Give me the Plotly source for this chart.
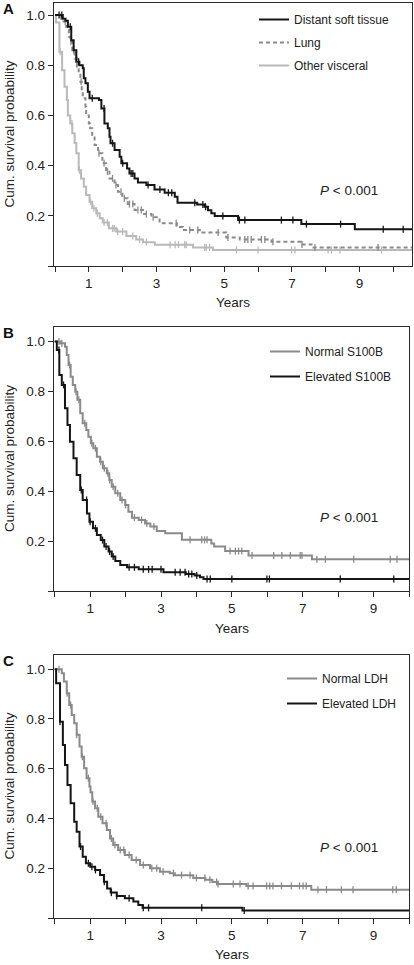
import numpy as np
import plotly.graph_objects as go

# ---------------- data ----------------
# Panel A
A_DST_T = [0, 0.23, 0.31, 0.38, 0.48, 0.55, 0.63, 0.72, 0.82, 0.85, 0.9, 0.97, 1.02, 1.3, 1.37, 1.46, 1.56, 1.61, 1.64, 1.76,
           1.91, 1.96, 2.13, 2.2, 2.35, 2.45, 2.7, 2.94, 3.24, 3.54, 3.62, 4.2, 4.42, 4.52, 4.62, 4.72, 5.41, 7.28, 8.86]
A_DST_S = [1.0, 0.985, 0.977, 0.953, 0.90, 0.86, 0.814, 0.80, 0.788, 0.748, 0.728, 0.694, 0.668, 0.661, 0.628, 0.568, 0.549,
           0.515, 0.489, 0.462, 0.435, 0.409, 0.389, 0.369, 0.349, 0.333, 0.323, 0.305, 0.292, 0.276, 0.252, 0.245, 0.236,
           0.222, 0.21, 0.199, 0.183, 0.167, 0.146]
A_DST_C = [0.12, 0.2, 0.45, 0.7, 1.1, 1.45, 1.7, 2.0, 2.25, 2.3, 2.75, 3.1, 3.35, 3.45, 4.13, 4.37, 4.45, 4.96, 5.45, 5.61,
           6.69, 7.03, 7.43, 8.44, 9.70, 10.29]

A_LUNG_T = [0, 0.18, 0.25, 0.33, 0.41, 0.45, 0.51, 0.58, 0.65, 0.7, 0.75, 0.79, 0.82, 0.9, 0.92, 1.0, 1.04, 1.1, 1.17, 1.27,
            1.4, 1.51, 1.61, 1.76, 1.86, 1.99, 2.15, 2.35, 2.6, 2.85, 3.09, 3.6, 3.78, 4.28, 5.06, 5.46, 6.4, 7.28, 7.58]
A_LUNG_S = [1.0, 0.985, 0.974, 0.953, 0.914, 0.894, 0.86, 0.827, 0.794, 0.768, 0.734, 0.694, 0.668, 0.635, 0.60, 0.568,
            0.549, 0.522, 0.482, 0.449, 0.409, 0.376, 0.349, 0.323, 0.296, 0.27, 0.247, 0.223, 0.207, 0.194, 0.17, 0.155,
            0.143, 0.133, 0.114, 0.106, 0.097, 0.086, 0.074]
A_LUNG_C = [0.3, 0.47, 0.55, 0.62, 0.77, 1.3, 1.45, 1.55, 1.7, 1.8, 1.95, 2.05, 2.2, 2.3, 2.45, 2.55, 2.7, 2.9, 3.58, 3.98,
            4.22, 4.82, 5.11, 5.61, 5.7, 5.8, 6.1, 6.2, 6.44, 7.3, 7.68, 9.55]

A_OTH_T = [0, 0.03, 0.13, 0.21, 0.28, 0.35, 0.38, 0.45, 0.51, 0.58, 0.63, 0.7, 0.77, 0.85, 0.92, 1.02, 1.1, 1.22, 1.32,
           1.41, 1.59, 1.81, 2.11, 2.4, 2.6, 2.95, 4.08, 4.67]
A_OTH_S = [1.0, 0.97, 0.854, 0.78, 0.714, 0.661, 0.60, 0.568, 0.529, 0.49, 0.449, 0.382, 0.349, 0.316, 0.283, 0.256, 0.23,
           0.21, 0.19, 0.173, 0.15, 0.137, 0.12, 0.106, 0.095, 0.085, 0.074, 0.064]
A_OTH_C = [0.15, 0.5, 0.72, 1.05, 1.15, 1.25, 1.45, 1.55, 1.7, 1.75, 1.85, 2.0, 2.3, 2.5, 2.7, 3.4, 3.55, 3.65, 3.83, 3.88,
           4.42, 4.47, 4.57, 5.36, 6.0, 6.99, 7.09, 8.07, 8.17, 8.42, 9.65]
A_END = 10.55

# Panel B
B_NORM_T = [0, 0.15, 0.29, 0.34, 0.39, 0.45, 0.51, 0.58, 0.64, 0.72, 0.79, 0.89, 0.95, 1.02, 1.09, 1.19, 1.28, 1.36, 1.47,
            1.54, 1.61, 1.71, 1.85, 1.99, 2.08, 2.18, 2.37, 2.55, 2.7, 2.88, 3.12, 3.59, 4.42, 4.5, 4.81, 5.47, 7.26]
B_NORM_S = [1.0, 0.993, 0.979, 0.946, 0.906, 0.859, 0.826, 0.799, 0.766, 0.712, 0.672, 0.645, 0.618, 0.592, 0.572, 0.538,
            0.518, 0.492, 0.472, 0.445, 0.418, 0.392, 0.365, 0.345, 0.318, 0.294, 0.285, 0.271, 0.258, 0.24, 0.231, 0.205,
            0.19, 0.178, 0.16, 0.142, 0.127]
B_NORM_C = [0.12, 0.2, 0.42, 0.6, 0.68, 0.85, 1.05, 1.15, 1.3, 1.4, 1.5, 1.55, 1.65, 1.78, 1.9, 2.0, 2.25, 2.45, 2.6, 2.8,
            3.82, 4.15, 4.23, 4.3, 4.95, 5.1, 5.19, 5.28, 5.57, 6.18, 6.41, 6.65, 6.93, 6.98, 7.4, 7.64, 8.44, 9.47, 9.66]

B_ELEV_T = [0, 0.06, 0.13, 0.2, 0.29, 0.36, 0.43, 0.53, 0.62, 0.72, 0.79, 0.91, 0.98, 1.08, 1.19, 1.3, 1.4, 1.52, 1.61,
            1.71, 1.85, 2.04, 2.37, 3.07, 3.7, 3.95, 4.1, 4.2]
B_ELEV_S = [1.0, 0.966, 0.866, 0.826, 0.732, 0.665, 0.598, 0.532, 0.465, 0.405, 0.365, 0.311, 0.278, 0.251, 0.224, 0.204,
            0.178, 0.158, 0.138, 0.12, 0.104, 0.095, 0.087, 0.075, 0.068, 0.062, 0.055, 0.048]
B_ELEV_C = [0.12, 0.25, 0.75, 0.9, 1.0, 1.15, 1.35, 1.45, 1.55, 1.65, 2.1, 2.25, 2.5, 2.65, 2.75, 3.0, 3.4, 3.54, 3.68,
            3.78, 3.87, 4.01, 4.3, 4.39, 5.0, 5.99, 6.06, 8.06, 9.57]
B_END = 10.0

# Panel C
C_NORM_T = [0, 0.2, 0.26, 0.34, 0.41, 0.48, 0.55, 0.62, 0.7, 0.76, 0.83, 0.9, 0.98, 1.01, 1.06, 1.14, 1.23, 1.35, 1.47,
            1.56, 1.65, 1.79, 1.98, 2.17, 2.41, 2.69, 2.97, 3.25, 3.39, 3.91, 4.25, 4.45, 4.6, 5.41, 7.24]
C_NORM_S = [1.0, 0.984, 0.95, 0.903, 0.856, 0.816, 0.783, 0.736, 0.689, 0.648, 0.602, 0.562, 0.528, 0.505, 0.468, 0.441,
            0.407, 0.381, 0.354, 0.32, 0.293, 0.273, 0.253, 0.233, 0.213, 0.2, 0.186, 0.18, 0.172, 0.161, 0.154, 0.145,
            0.137, 0.129, 0.114]
C_NORM_C = [0.12, 0.35, 0.45, 0.62, 0.78, 0.95, 1.08, 1.2, 1.3, 1.45, 1.6, 1.7, 1.85, 1.95, 2.1, 2.3, 2.5, 2.74, 2.88,
            3.06, 3.35, 3.58, 3.82, 4.0, 4.24, 4.38, 4.57, 4.61, 5.04, 5.23, 5.46, 5.6, 5.98, 6.07, 6.16, 6.4, 6.68, 6.91,
            7.01, 7.1, 7.43, 7.67, 8.09, 8.42, 9.54, 9.64]

C_ELEV_T = [0, 0.04, 0.15, 0.23, 0.29, 0.36, 0.45, 0.55, 0.62, 0.7, 0.79, 0.88, 1.0, 1.14, 1.28, 1.39, 1.48, 1.58, 1.75,
            1.98, 2.22, 2.36, 2.48, 5.3]
C_ELEV_S = [1.0, 0.943, 0.789, 0.695, 0.615, 0.535, 0.461, 0.387, 0.347, 0.287, 0.246, 0.22, 0.206, 0.193, 0.173, 0.146,
            0.119, 0.102, 0.088, 0.079, 0.066, 0.052, 0.041, 0.03]
C_ELEV_C = [0.15, 0.73, 0.95, 1.05, 1.15, 1.4, 1.6, 1.75, 2.1, 2.5, 2.65, 4.15, 5.35]
C_END = 10.0

X_TICKS = list(range(0, 11))
X_TICKTEXT = [str(v) if v % 2 == 1 else "" for v in X_TICKS]
Y_TICKS = [0, 0.2, 0.4, 0.6, 0.8, 1.0]
Y_TICKTEXT = ["", "0.2", "0.4", "0.6", "0.8", "1.0"]
P_TEXT = "<i>P</i> < 0.001"

# ---------------- styling ----------------
W, H = 414, 965
FONT = "Liberation Sans, Arial, sans-serif"
BLACK = "#151515"
GRAY = "#8a8a8a"
LIGHT = "#b9b9b9"
AXC = "#2a2a2a"
TXT = 13.5

# panel boxes in pixels: left, right, top, bottom
BOX = {
    "A": (54, 412, 3, 266),
    "B": (54, 409, 327, 591),
    "C": (54, 409, 655, 918),
}
XR = {"A": [-0.03, A_END], "B": [-0.02, B_END], "C": [-0.02, C_END]}
YR = {"A": [0, 1.048], "B": [0, 1.058], "C": [0, 1.057]}
XTITLE_OFF = {"A": 36, "B": 37, "C": 36}

fig = go.Figure()


def step_at(t, s, c):
    t = np.asarray(t)
    s = np.asarray(s)
    idx = np.searchsorted(t, np.asarray(c), side="right") - 1
    return s[idx]


def add_curve(t, s, cens, end, name, color, ax, legend, rank, dash="solid"):
    xs = list(t) + [end]
    ys = list(s) + [s[-1]]
    fig.add_trace(go.Scatter(
        x=xs, y=ys, mode="lines", line=dict(shape="hv", color=color, width=2, dash=dash),
        name=name, legend=legend, legendrank=rank, legendgroup=name + legend,
        xaxis="x" + ax, yaxis="y" + ax, showlegend=True, hoverinfo="skip"))
    fig.add_trace(go.Scatter(
        x=cens, y=step_at(t, s, cens), mode="markers",
        marker=dict(symbol="line-ns", size=5, line=dict(color=color, width=1.3)),
        xaxis="x" + ax, yaxis="y" + ax, showlegend=False, legendgroup=name + legend, hoverinfo="skip"))


# Panel A (axis suffix "")
add_curve(A_OTH_T, A_OTH_S, A_OTH_C, A_END, "Other visceral", LIGHT, "", "legend", 3)
add_curve(A_LUNG_T, A_LUNG_S, A_LUNG_C, A_END, "Lung", GRAY, "", "legend", 2, dash="4px,3px")
add_curve(A_DST_T, A_DST_S, A_DST_C, A_END, "Distant soft tissue", BLACK, "", "legend", 1)
# Panel B
add_curve(B_NORM_T, B_NORM_S, B_NORM_C, B_END, "Normal S100B", GRAY, "2", "legend2", 1)
add_curve(B_ELEV_T, B_ELEV_S, B_ELEV_C, B_END, "Elevated S100B", BLACK, "2", "legend2", 2)
# Panel C
add_curve(C_NORM_T, C_NORM_S, C_NORM_C, C_END, "Normal LDH", GRAY, "3", "legend3", 1)
add_curve(C_ELEV_T, C_ELEV_S, C_ELEV_C, C_END, "Elevated LDH", BLACK, "3", "legend3", 2)


def xdom(l, r):
    return [l / W, r / W]


def ydom(t, b):
    return [1 - b / H, 1 - t / H]


axis_common = dict(showline=True, linecolor=AXC, linewidth=1.3, mirror=True, ticks="outside", ticklen=5,
                   tickwidth=1.2, tickcolor=AXC, showgrid=False, zeroline=False,
                   tickfont=dict(family=FONT, size=TXT, color="#222"), fixedrange=True)

layout = dict(width=W, height=H, margin=dict(l=0, r=0, t=0, b=0), plot_bgcolor="white", paper_bgcolor="white",
              font=dict(family=FONT, size=12, color="#222"))
annotations = []
legend_pos = {"A": (254, 5, 4), "B": (265, 337, 6), "C": (282, 664, 6)}
for key, suf in (("A", ""), ("B", "2"), ("C", "3")):
    l, r, t, b = BOX[key]
    layout["xaxis" + suf] = dict(axis_common, domain=xdom(l, r), range=XR[key], tickvals=X_TICKS, ticktext=X_TICKTEXT,
                                 anchor="y" + suf)
    layout["yaxis" + suf] = dict(axis_common, domain=ydom(t, b), range=YR[key], tickvals=Y_TICKS, ticktext=Y_TICKTEXT,
                                 anchor="x" + suf)
    lx, ly, gap = legend_pos[key]
    layout["legend" + suf] = dict(x=lx / W, y=1 - ly / H, xanchor="left", yanchor="top", bgcolor="rgba(0,0,0,0)",
                                  font=dict(family=FONT, size=12, color="#222"), itemwidth=30, tracegroupgap=gap,
                                  traceorder="grouped")
    # panel letter
    annotations.append(dict(text="<b>%s</b>" % key, x=1 / W, y=1 - (t + 5) / H, xref="paper", yref="paper",
                            xanchor="left", yanchor="middle", showarrow=False,
                            font=dict(family=FONT, size=15, color="#111")))
    # y title
    annotations.append(dict(text="Cum. survival probability", x=9 / W, y=1 - (t + b) / 2 / H, xref="paper",
                            yref="paper", textangle=-90, xanchor="center", yanchor="middle", showarrow=False,
                            font=dict(family=FONT, size=TXT, color="#222")))
    # x title
    annotations.append(dict(text="Years", x=(l + r) / 2 / W, y=1 - (b + XTITLE_OFF[key]) / H, xref="paper",
                            yref="paper", xanchor="center", yanchor="middle", showarrow=False,
                            font=dict(family=FONT, size=TXT, color="#222")))

annotations.append(dict(text=P_TEXT, x=8.7, y=0.30, xref="x", yref="y", showarrow=False,
                        font=dict(family=FONT, size=TXT, color="#222")))
annotations.append(dict(text=P_TEXT, x=8.32, y=0.295, xref="x2", yref="y2", showarrow=False,
                        font=dict(family=FONT, size=TXT, color="#222")))
annotations.append(dict(text=P_TEXT, x=8.32, y=0.284, xref="x3", yref="y3", showarrow=False,
                        font=dict(family=FONT, size=TXT, color="#222")))
layout["annotations"] = annotations

fig.update_layout(**layout)
fig.write_html("out.html", config={"displayModeBar": False}, post_script="document.body.style.margin='0px';")
